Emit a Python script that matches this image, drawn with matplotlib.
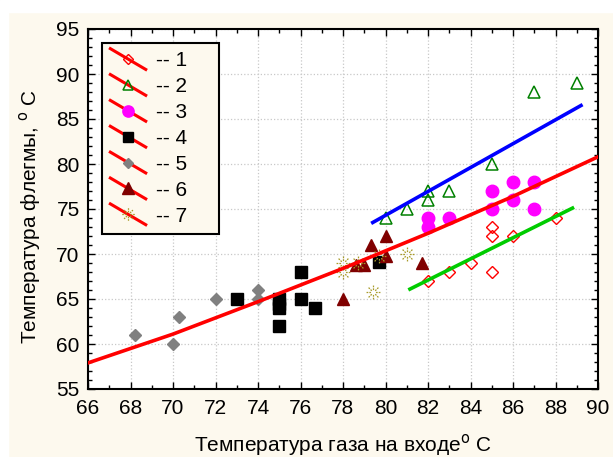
import numpy as np
import matplotlib
matplotlib.use('Agg')
import matplotlib.pyplot as plt
from matplotlib.lines import Line2D
from matplotlib.legend_handler import HandlerBase
from matplotlib.path import Path
from matplotlib.patches import Rectangle
from matplotlib.ticker import MultipleLocator

plt.rcParams['font.family'] = ['Liberation Sans', 'DejaVu Sans']

## data
s1_x = [82, 83, 84, 85, 85, 85, 86, 88]
s1_y = [67, 68, 69, 73, 72, 68, 72, 74]
s2_x = [80, 81, 82, 82, 83, 85, 87, 89]
s2_y = [74, 75, 76, 77, 77, 80, 88, 89]
s3_x = [82, 82, 83, 85, 85, 86, 86, 87, 87]
s3_y = [74, 73, 74, 77, 75, 78, 76, 78, 75]
s4_x = [73, 75, 75, 75, 75, 76, 76, 76.7, 79.7]
s4_y = [65, 65, 64.5, 64, 62, 68, 65, 64, 69.1]
s5_x = [68.2, 70, 70.3, 72, 74, 74]
s5_y = [61, 60, 63, 65, 66, 65]
s6_x = [78, 78.6, 79.0, 79.3, 80, 80, 81.7]
s6_y = [65, 68.8, 68.8, 71, 72, 69.8, 69]
s7_x = [78, 78, 78.7, 79.4, 79.7, 81]
s7_y = [69, 68, 69, 65.8, 69.8, 70]

# fitted curves (traced)
red_x = [66, 70, 74, 78, 82, 86, 90]
red_y = [57.9, 61.1, 64.7, 68.4, 72.3, 76.4, 80.8]
blue_x = [79.4, 89.2]
blue_y = [73.5, 86.5]
green_x = [81.15, 88.8]
green_y = [66.1, 75.1]

labels = ['-- 1', '-- 2', '-- 3', '-- 4', '-- 5', '-- 6', '-- 7']

cream = '#FDF9EE'

# dashed "sun" marker
verts, codes = [], []
for a in np.arange(8) * np.pi / 4:
    for r0, r1 in [(0.35, 0.6), (0.75, 1.0)]:
        verts += [(r0 * np.cos(a), r0 * np.sin(a)), (r1 * np.cos(a), r1 * np.sin(a))]
        codes += [Path.MOVETO, Path.LINETO]
star = Path(verts, codes)


class DiagHandler(HandlerBase):
    def create_artists(self, legend, orig_handle, xdescent, ydescent,
                       width, height, fontsize, trans):
        x0, x1 = -xdescent, width - xdescent
        yc = height / 2 - ydescent
        ln = Line2D([x0, x1], [yc + 7.5, yc - 7.5], color='red', lw=2.2, transform=trans)
        mk = Line2D([(x0 + x1) / 2], [yc], ls='none', marker=orig_handle.get_marker(),
                    markersize=orig_handle.get_markersize() * 0.9,
                    mfc=orig_handle.get_markerfacecolor(),
                    mec=orig_handle.get_markeredgecolor(),
                    mew=orig_handle.get_markeredgewidth(), transform=trans)
        return [ln, mk]


fig = plt.figure(figsize=(6.13, 4.57), dpi=100, facecolor=cream)
fig.patches.append(Rectangle((0, 1 - 12 / 457), 1, 12 / 457, transform=fig.transFigure,
                             color='white', zorder=0))
fig.patches.append(Rectangle((0, 0), 8 / 613, 1, transform=fig.transFigure,
                             color='white', zorder=0))

ax = fig.add_axes([88 / 613, 1 - 389 / 457, 510 / 613, 360 / 457])
ax.set_facecolor('white')

h1, = ax.plot(s1_x, s1_y, ls='none', marker='D', ms=6, mfc='none', mec='red', mew=1)
h2, = ax.plot(s2_x, s2_y, ls='none', marker='^', ms=8, mfc='none', mec='green', mew=1.1)
h3, = ax.plot(s3_x, s3_y, ls='none', marker='o', ms=9, mfc='magenta', mec='magenta')
h4, = ax.plot(s4_x, s4_y, ls='none', marker='s', ms=8, mfc='black', mec='black')
h5, = ax.plot(s5_x, s5_y, ls='none', marker='D', ms=6, mfc='gray', mec='gray')
h6, = ax.plot(s6_x, s6_y, ls='none', marker='^', ms=9, mfc='#800000', mec='#800000')
h7, = ax.plot(s7_x, s7_y, ls='none', marker=star, ms=10, mfc='none', mec='#A89A28', mew=0.9)

ax.plot(red_x, red_y, color='red', lw=2.6, zorder=5)
ax.plot(blue_x, blue_y, color='blue', lw=2.6, zorder=5)
ax.plot(green_x, green_y, color='#00CC00', lw=2.6, zorder=5)

ax.set_xlim(66, 90)
ax.set_ylim(55, 95)
ax.xaxis.set_major_locator(MultipleLocator(2))
ax.xaxis.set_minor_locator(MultipleLocator(1))
ax.yaxis.set_major_locator(MultipleLocator(5))
ax.yaxis.set_minor_locator(MultipleLocator(1))
ax.tick_params(which='both', direction='in', top=True, right=True, width=1)
ax.tick_params(which='major', length=5, labelsize=15)
ax.tick_params(axis='x', which='major', pad=7)
ax.tick_params(axis='y', which='major', pad=6)
ax.tick_params(which='minor', length=3)
ax.grid(True, which='major', color='#C8C8C8', ls=':', lw=0.9)
ax.set_axisbelow(True)
for sp in ax.spines.values():
    sp.set_linewidth(1.5)

ax.set_xlabel('Температура газа на входе$^{\\rm o}$ С', fontsize=15, labelpad=10)
ax.set_ylabel('Температура флегмы, $^{\\rm o}$ С', fontsize=15)
ax.yaxis.set_label_coords(-0.088, 0.478)

leg = ax.legend([h1, h2, h3, h4, h5, h6, h7], [s + '    ' for s in labels],
                handler_map={Line2D: DiagHandler()},
                loc='upper left', bbox_to_anchor=(102 / 613, 1 - 43 / 457),
                bbox_transform=fig.transFigure, borderaxespad=0,
                fontsize=15, handlelength=1.7, handletextpad=0.5,
                labelspacing=0.33, borderpad=0.4, fancybox=False,
                edgecolor='black', facecolor=cream, framealpha=1)
leg.get_frame().set_linewidth(1.5)

fig.savefig('out.png', dpi=100, facecolor=cream)
